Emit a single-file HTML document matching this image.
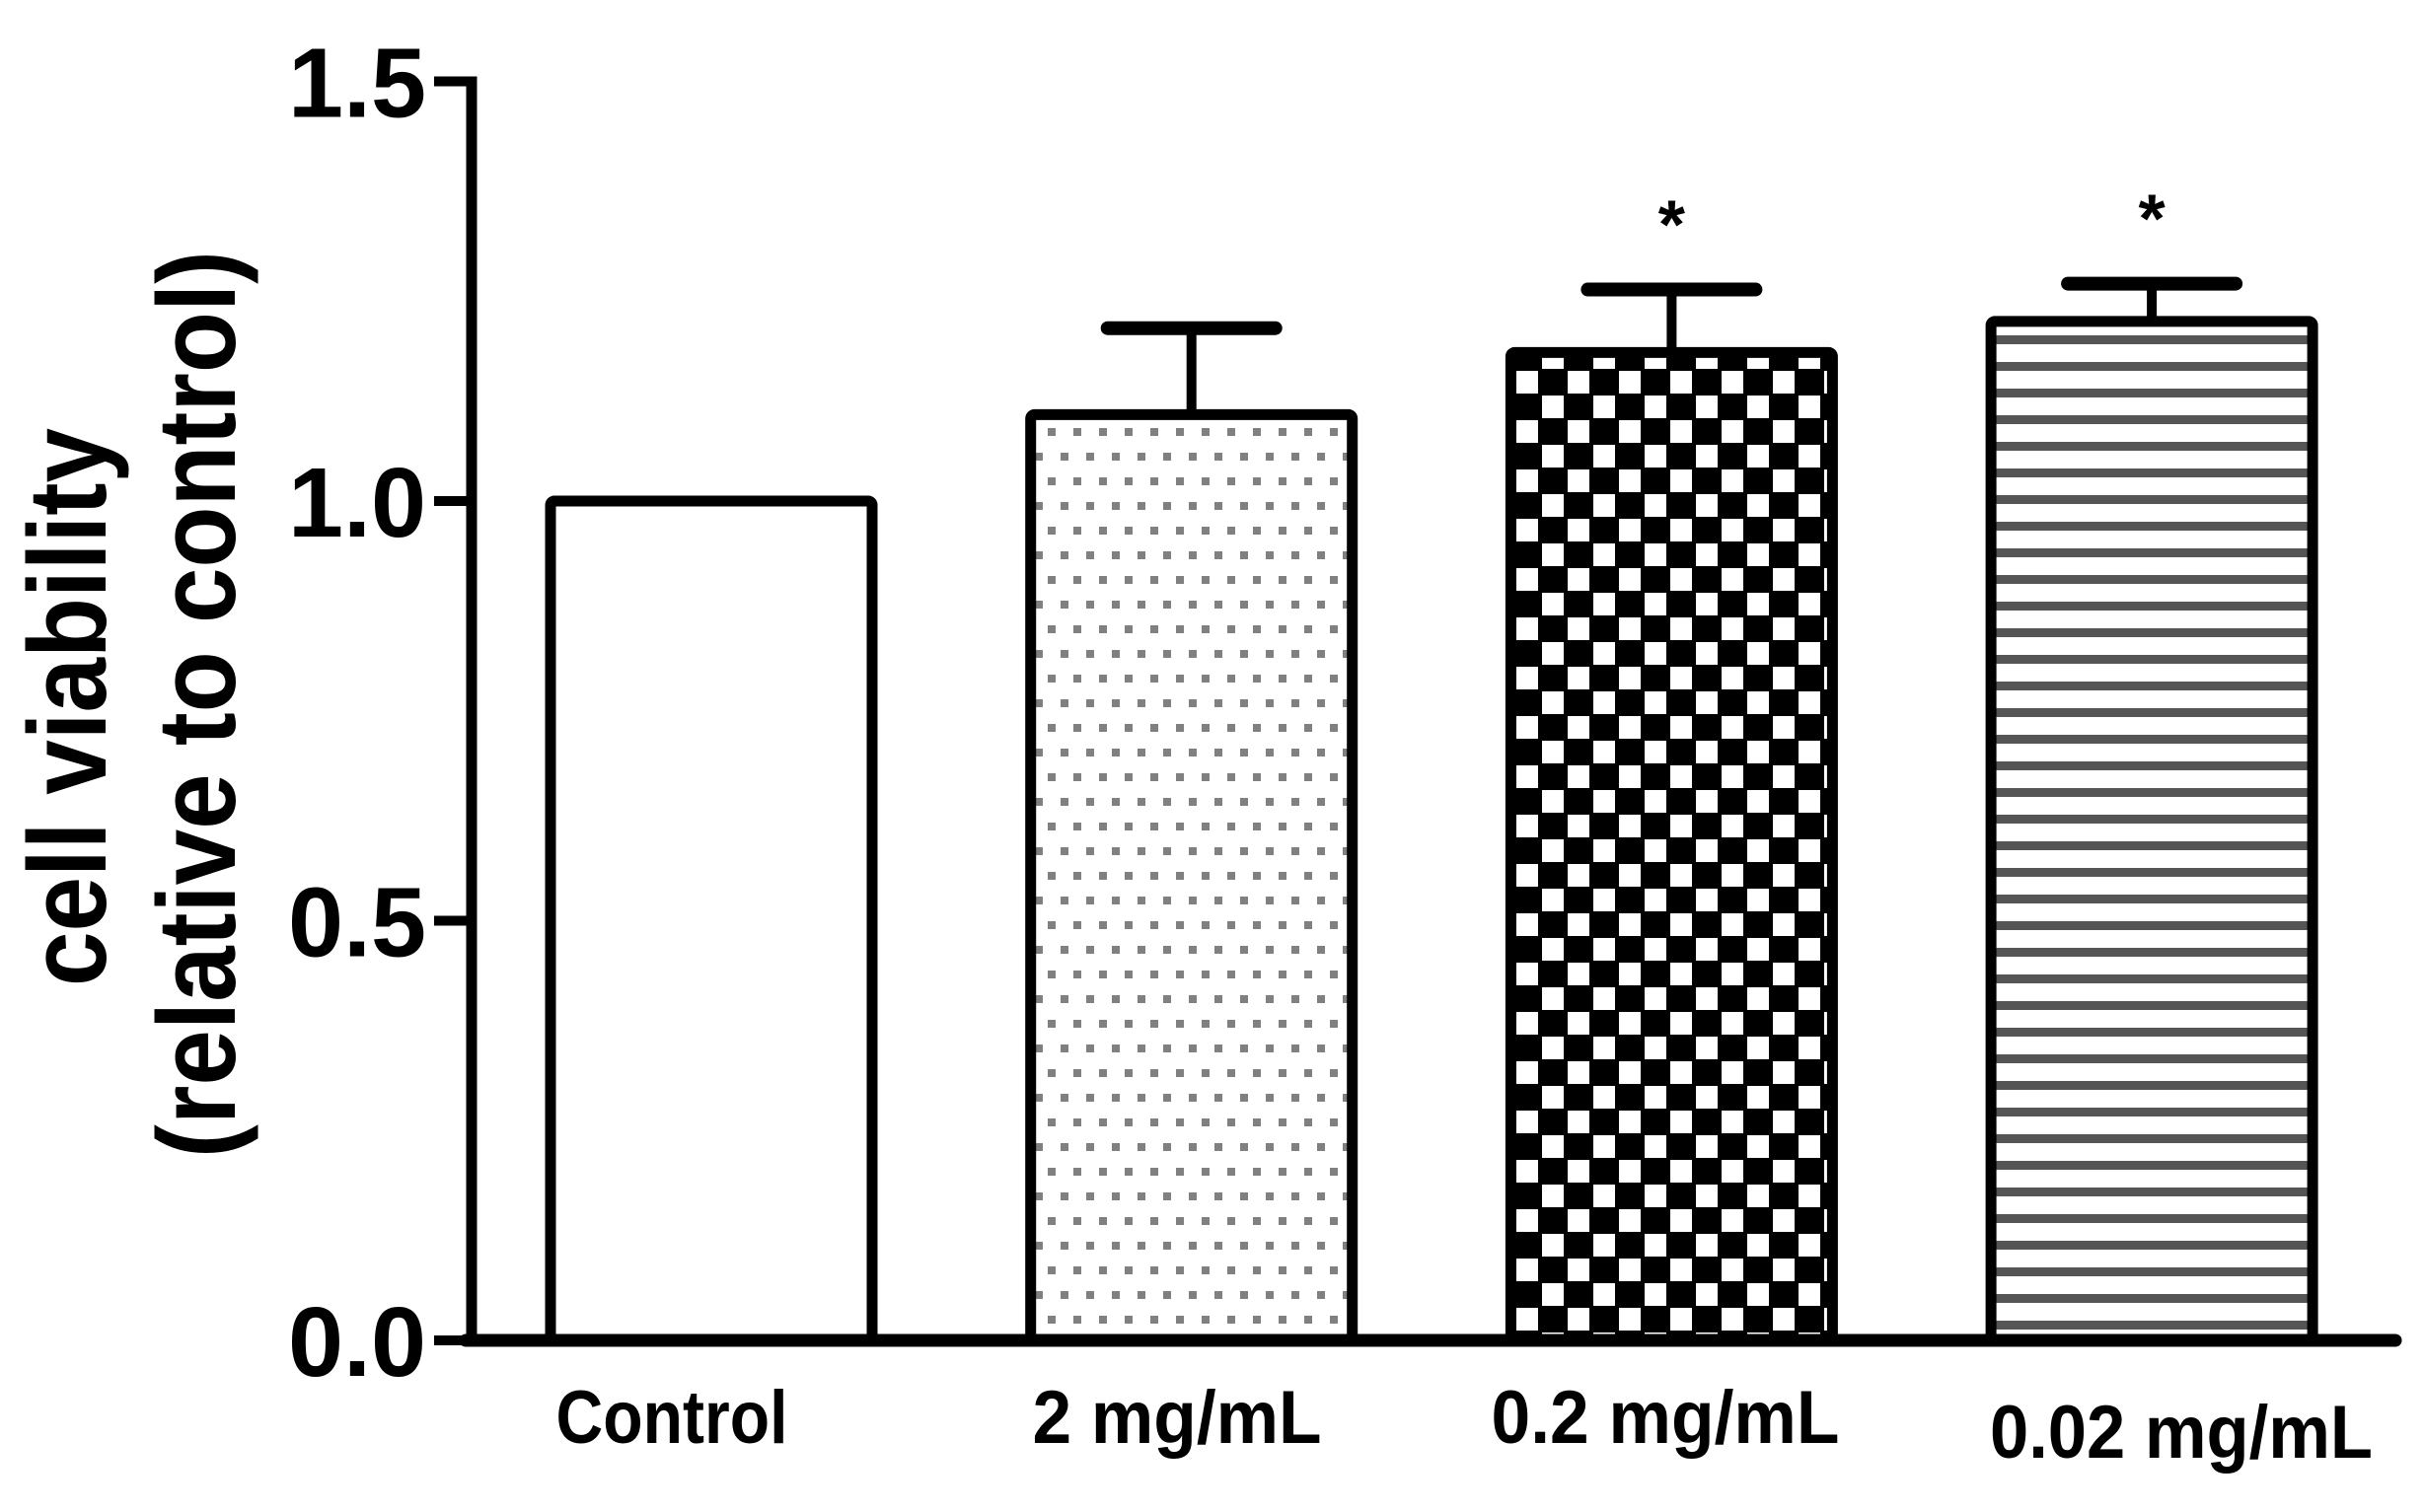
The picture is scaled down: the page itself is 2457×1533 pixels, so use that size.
<!DOCTYPE html>
<html><head><meta charset="utf-8"><style>
html,body{margin:0;padding:0;background:#fff;}
svg{display:block;}
</style></head><body>
<svg id="chart" width="2457" height="1533" viewBox="0 0 2457 1533" xmlns="http://www.w3.org/2000/svg">
<defs>
<pattern id="pDots" patternUnits="userSpaceOnUse" width="26" height="50" x="0" y="0">
<rect x="9" y="9" width="8" height="8" fill="#808080"/>
<rect x="-4" y="34" width="8" height="8" fill="#808080"/>
<rect x="22" y="34" width="8" height="8" fill="#808080"/>
</pattern>
<pattern id="pCheck" patternUnits="userSpaceOnUse" width="52" height="50">
<rect width="52" height="50" fill="#000"/>
<rect x="3" y="1" width="22" height="23" fill="#fff"/>
<rect x="29" y="26" width="22" height="23" fill="#fff"/>
</pattern>
<pattern id="pStripe" patternUnits="userSpaceOnUse" width="27" height="27">
<rect width="27" height="27" fill="#fff"/>
<rect y="16" width="27" height="9" fill="#555"/>
</pattern>
</defs>
<g id="plot"></g>
</svg>
<script>
const categories = ["Control", "2 mg/mL", "0.2 mg/mL", "0.02 mg/mL"];
const values = [1.0, 1.103, 1.177, 1.214];
const errors = [0, 0.103, 0.075, 0.045];
const significant = [false, false, true, true];
const yTicks = [0, 0.5, 1.0, 1.5];
const yTickLabels = ["0.0", "0.5", "1.0", "1.5"];

const NS = "http://www.w3.org/2000/svg";
const g = document.getElementById('plot');
const y0 = 1359, pxPerUnit = 851;
const yScale = v => y0 - v * pxPerUnit;
const xStart = 721, xStep = 486.7;
const xCenter = i => xStart + i * xStep;
const barW = 326, capW = 170;
const fills = ["#fff", "url(#pDots)", "url(#pCheck)", "url(#pStripe)"];
function mk(tag, attrs){ const e = document.createElementNS(NS, tag); for (const k in attrs) e.setAttribute(k, attrs[k]); g.appendChild(e); return e; }

categories.forEach((c, i) => {
  const cx = xCenter(i), top = yScale(values[i]);
  if (errors[i] > 0) {
    const ye = yScale(values[i] + errors[i]);
    const l = mk('line', {x1: cx, x2: cx, y1: top, y2: ye, stroke: '#000', 'stroke-width': 10});
    
    
    const cap = mk('line', {x1: cx - capW/2, x2: cx + capW/2, y1: ye, y2: ye, stroke: '#000', 'stroke-width': 14, 'stroke-linecap': 'round'});
    
    
    if (significant[i]) {
      const s = mk('text', {x: cx, y: ye - 42, 'text-anchor': 'middle', 'font-family': 'Liberation Sans, sans-serif', 'font-weight': 'bold', 'font-size': 70});
      s.textContent = '*';
      
      
    }
  }
  const r = mk('rect', {x: cx - barW/2, y: top, width: barW, height: y0 - top, fill: fills[i], stroke: '#000', 'stroke-width': 11, rx: 4});
  
  
});

const ya = mk('line', {x1: 478, x2: 478, y1: yScale(1.5) - 5, y2: y0 + 5, stroke: '#000', 'stroke-width': 11});


const xa = mk('line', {x1: 472, x2: 2428, y1: y0, y2: y0, stroke: '#000', 'stroke-width': 13, 'stroke-linecap': 'round'});



yTicks.forEach((t, i) => {
  const yy = yScale(t);
  const tk = mk('line', {x1: 440, x2: 478, y1: yy, y2: yy, stroke: '#000', 'stroke-width': 10});
  
  
  const tl = mk('text', {x: 432, y: yy + 36, 'text-anchor': 'end', 'font-family': 'Liberation Sans, sans-serif', 'font-weight': 'bold', 'font-size': 100, textLength: 140, lengthAdjust: 'spacingAndGlyphs'});
  tl.textContent = yTickLabels[i];
  
  
});

const labelCx = [681, 1193, 1688, 2211];
const labelW = [235, 293, 353, 388];
const labelY = [1463, 1463, 1463, 1478];
categories.forEach((c, i) => {
  const t = mk('text', {x: labelCx[i], y: labelY[i], 'text-anchor': 'middle', 'font-family': 'Liberation Sans Narrow, Liberation Sans, sans-serif', 'font-weight': 'bold', 'font-size': 76, textLength: labelW[i], lengthAdjust: 'spacingAndGlyphs'});
  t.textContent = c;
  
  
});

const t1 = mk('text', {x: 0, y: 0, 'text-anchor': 'middle', 'font-family': 'Liberation Sans, sans-serif', 'font-weight': 'bold', 'font-size': 112, textLength: 566, lengthAdjust: 'spacingAndGlyphs', transform: 'translate(107,717) rotate(-90)'});
t1.textContent = 'cell viability';


const t2 = mk('text', {x: 0, y: 0, 'text-anchor': 'middle', 'font-family': 'Liberation Sans, sans-serif', 'font-weight': 'bold', 'font-size': 112, textLength: 920, lengthAdjust: 'spacingAndGlyphs', transform: 'translate(238,714) rotate(-90)'});
t2.textContent = '(relative to control)';


</script>
</body></html>
